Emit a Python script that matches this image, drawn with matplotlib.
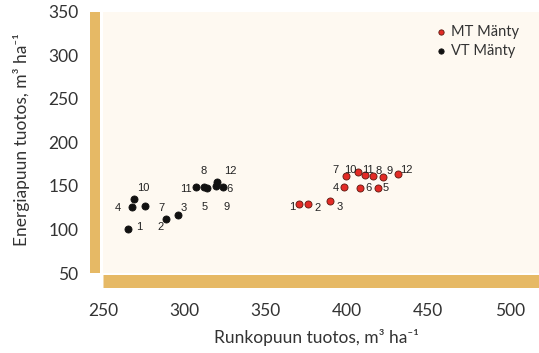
import matplotlib
matplotlib.use("Agg")
from matplotlib import pyplot as plt

# Runkopuun (x) ja energiapuun (y) tuotos, m3/ha
mt_labels = ['1', '2', '3', '4', '5', '6', '7', '8', '9', '10', '11', '12']
mt_runko = [370.4, 376.1, 389.8, 398.2, 419.1, 408.0, 399.1, 416.0, 422.4, 406.8, 410.9, 431.2]
mt_energia = [129.0, 129.7, 132.8, 148.9, 147.4, 147.7, 161.8, 161.5, 160.7, 165.7, 162.6, 163.4]

vt_labels = ['1', '2', '3', '4', '5', '6', '7', '8', '9', '10', '11', '12']
vt_runko = [265.5, 288.5, 296.3, 267.6, 313.7, 323.5, 275.8, 312.0, 319.4, 269.2, 307.0, 319.8]
vt_energia = [100.6, 112.0, 116.7, 126.2, 147.4, 149.2, 127.4, 148.9, 150.0, 135.0, 149.2, 155.0]

x_ticks = [250, 300, 350, 400, 450, 500]
y_ticks = [50, 100, 150, 200, 250, 300, 350]

# label offsets in pixels (dx, dy)
mt_offsets = [(-7, -3), (9, -4), (9, -6), (-8, -1), (8, 0), (8, 0),
              (-10, 6), (6, 5), (6, 6), (-8, 2), (3, 5), (9, 4)]
vt_offsets = [(11, 2), (-5, -8), (5, 7), (-14, -1), (-2, -19), (7, -2),
              (16, -2), (0, 16), (11, -21), (9, 11), (-10, -2), (14, 11)]

BAR = '#E6B965'
BG = '#FEF9F1'
FONT = ['Lato', 'DejaVu Sans']

fig = plt.figure(figsize=(5.39, 3.53), dpi=100)
W, H = 539, 353
ax = fig.add_axes([103 / W, (H - 273) / H, (539 - 103) / W, (273 - 12) / H])
ax.set_facecolor(BG)
fig.patch.set_facecolor('white')

ax.set_xlim(250, 518)
ax.set_ylim(50, 350)

for s in ['top', 'right']:
    ax.spines[s].set_visible(False)
ax.spines['left'].set_color(BAR)
ax.spines['left'].set_linewidth(10 * 0.72)
ax.spines['left'].set_position(('outward', 8 * 0.72))
ax.spines['bottom'].set_color(BAR)
ax.spines['bottom'].set_linewidth(13 * 0.72)
ax.spines['bottom'].set_position(('outward', 7.5 * 0.72))
ax.spines['left'].set_capstyle('butt')
ax.spines['bottom'].set_capstyle('butt')

ax.set_xticks(x_ticks)
ax.set_yticks(y_ticks)
ax.tick_params(axis='y', direction='in', length=3.5, width=1.2, color='white',
               pad=12, labelsize=12.5, labelcolor='#333333')
ax.tick_params(axis='x', direction='in', length=4.5, width=1.2, color='white',
               pad=16, labelsize=12.5, labelcolor='#333333')
for lab in ax.get_xticklabels() + ax.get_yticklabels():
    lab.set_family(FONT)

ax.scatter(mt_runko, mt_energia, s=26, color='#E32B26', edgecolor='#5A1A10',
           linewidth=0.6, zorder=3, label='MT Mänty', clip_on=False)
ax.scatter(vt_runko, vt_energia, s=26, color='#111111', edgecolor='#111111',
           linewidth=0.6, zorder=3, label='VT Mänty', clip_on=False)

for lab, x, y, (dx, dy) in zip(mt_labels, mt_runko, mt_energia, mt_offsets):
    ax.annotate(lab, (x, y), xytext=(dx, dy), textcoords='offset pixels',
                ha='center', va='center', fontsize=8,
                family=['Liberation Sans', 'DejaVu Sans'], color='#222222', zorder=4)
for lab, x, y, (dx, dy) in zip(vt_labels, vt_runko, vt_energia, vt_offsets):
    ax.annotate(lab, (x, y), xytext=(dx, dy), textcoords='offset pixels',
                ha='center', va='center', fontsize=8,
                family=['Liberation Sans', 'DejaVu Sans'], color='#222222', zorder=4)

leg = ax.legend(loc='upper left', bbox_to_anchor=(0.725, 1.0), frameon=False,
                handletextpad=0.1, borderpad=0.4, labelspacing=0.3,
                markerscale=0.75, handlelength=1.2,
                prop={'family': FONT, 'size': 10.5})
for t in leg.get_texts():
    t.set_color('#333333')

fig.text(316 / W, 1 - 337 / H, 'Runkopuun tuotos, m³ ha⁻¹', ha='center', va='center',
         fontsize=12.5, family=FONT, color='#333333')
fig.text(22 / W, 1 - 140 / H, 'Energiapuun tuotos, m³ ha⁻¹', ha='center', va='center',
         rotation=90, fontsize=12.5, family=FONT, color='#333333')

fig.savefig('out.png', dpi=100, facecolor='white')
